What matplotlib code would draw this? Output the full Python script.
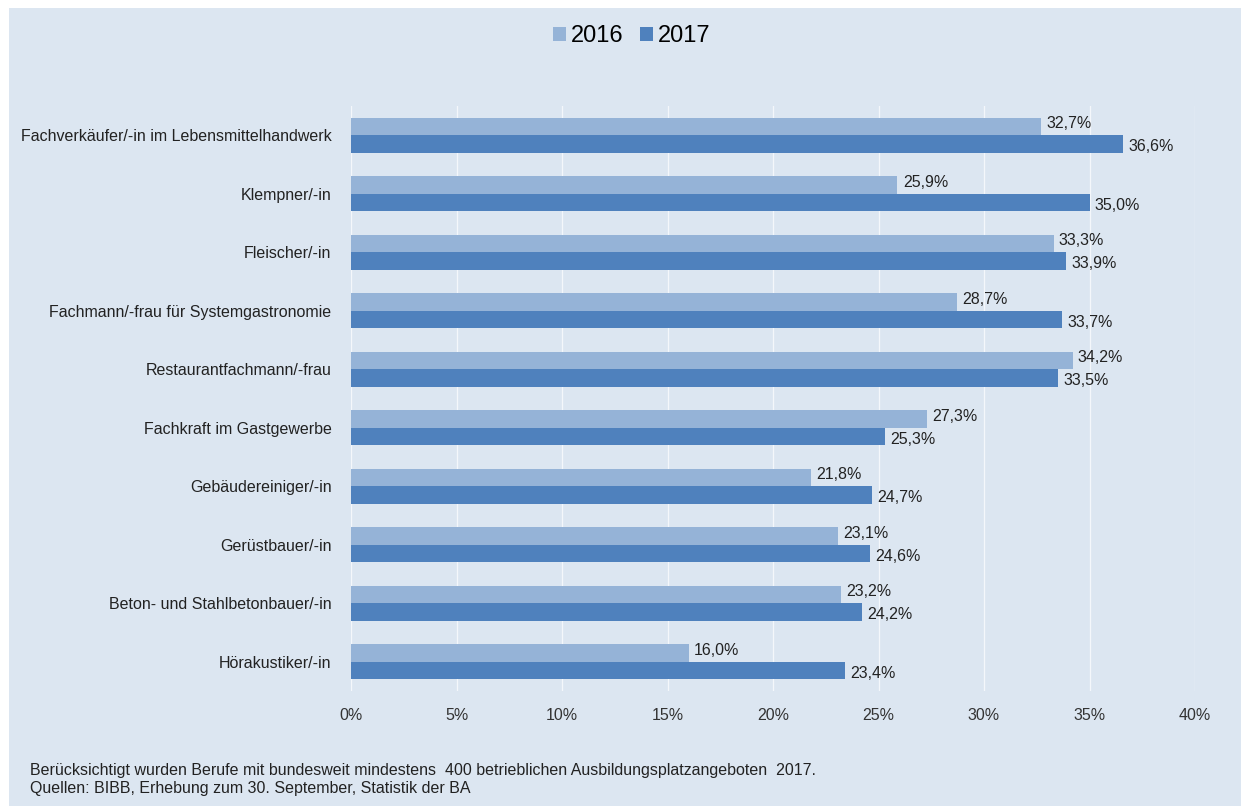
import matplotlib.pyplot as plt
import numpy as np
from matplotlib.patches import Rectangle

plt.rcParams['font.family'] = ['Liberation Sans', 'DejaVu Sans']

berufe = [
    "Fachverkäufer/-in im Lebensmittelhandwerk",
    "Klempner/-in",
    "Fleischer/-in",
    "Fachmann/-frau für Systemgastronomie",
    "Restaurantfachmann/-frau",
    "Fachkraft im Gastgewerbe",
    "Gebäudereiniger/-in",
    "Gerüstbauer/-in",
    "Beton- und Stahlbetonbauer/-in",
    "Hörakustiker/-in",
]
werte_2016 = [32.7, 25.9, 33.3, 28.7, 34.2, 27.3, 21.8, 23.1, 23.2, 16.0]
werte_2017 = [36.6, 35.0, 33.9, 33.7, 33.5, 25.3, 24.7, 24.6, 24.2, 23.4]
x_ticks = [0, 5, 10, 15, 20, 25, 30, 35, 40]

bg = '#dce6f1'
col_2016 = '#95b3d7'
col_2017 = '#4f81bd'

fig = plt.figure(figsize=(12.41, 8.06), dpi=100)
fig.patches.append(Rectangle((9 / 1241, 0), 1 - 9 / 1241, 798 / 806,
                             transform=fig.transFigure, facecolor=bg,
                             edgecolor='none', zorder=-10))

ax = fig.add_axes([351 / 1241, 1 - 691 / 806, 844 / 1241, 585 / 806])
ax.set_facecolor(bg)

y = np.arange(len(berufe))
h = 0.3
b1 = ax.barh(y - h / 2, werte_2016, height=h, color=col_2016, label='2016', zorder=3)
b2 = ax.barh(y + h / 2, werte_2017, height=h, color=col_2017, label='2017', zorder=3)

for bar, v in zip(b1, werte_2016):
    ax.text(v + 0.25, bar.get_y() + bar.get_height() / 2 - 0.05,
            f"{v:.1f}%".replace('.', ','), va='center', ha='left',
            fontsize=11.5, color='#222222', zorder=4)
for bar, v in zip(b2, werte_2017):
    ax.text(v + 0.25, bar.get_y() + bar.get_height() / 2 + 0.05,
            f"{v:.1f}%".replace('.', ','), va='center', ha='left',
            fontsize=11.5, color='#222222', zorder=4)

ax.set_xlim(0, 40)
ax.set_ylim(len(berufe) - 0.5, -0.5)
ax.set_xticks(x_ticks)
ax.set_xticklabels([f"{t}%" for t in x_ticks], fontsize=11.5, color='#333333')
ax.set_yticks(y)
ax.set_yticklabels(berufe, fontsize=11.5, color='#222222')
ax.tick_params(length=0)
ax.tick_params(axis='y', pad=14)
ax.tick_params(axis='x', pad=12)
ax.grid(axis='x', color='#f4f7fb', linewidth=0.9, zorder=0)
for s in ax.spines.values():
    s.set_visible(False)

fig.legend(handles=[b1, b2], labels=['2016', '2017'], loc='center',
           bbox_to_anchor=(632 / 1241, 1 - 36 / 806), ncol=2, frameon=False,
           fontsize=17, handlelength=0.55, handleheight=0.55, handletextpad=0.2,
           columnspacing=0.7)

fig.text(30 / 1241, 1 - 771 / 806,
         "Berücksichtigt wurden Berufe mit bundesweit mindestens  400 betrieblichen Ausbildungsplatzangeboten  2017.",
         fontsize=11.5, va='center', ha='left', color='#222222')
fig.text(30 / 1241, 1 - 788 / 806,
         "Quellen: BIBB, Erhebung zum 30. September, Statistik der BA",
         fontsize=11.5, va='center', ha='left', color='#222222')

fig.savefig('out.png', dpi=100)
